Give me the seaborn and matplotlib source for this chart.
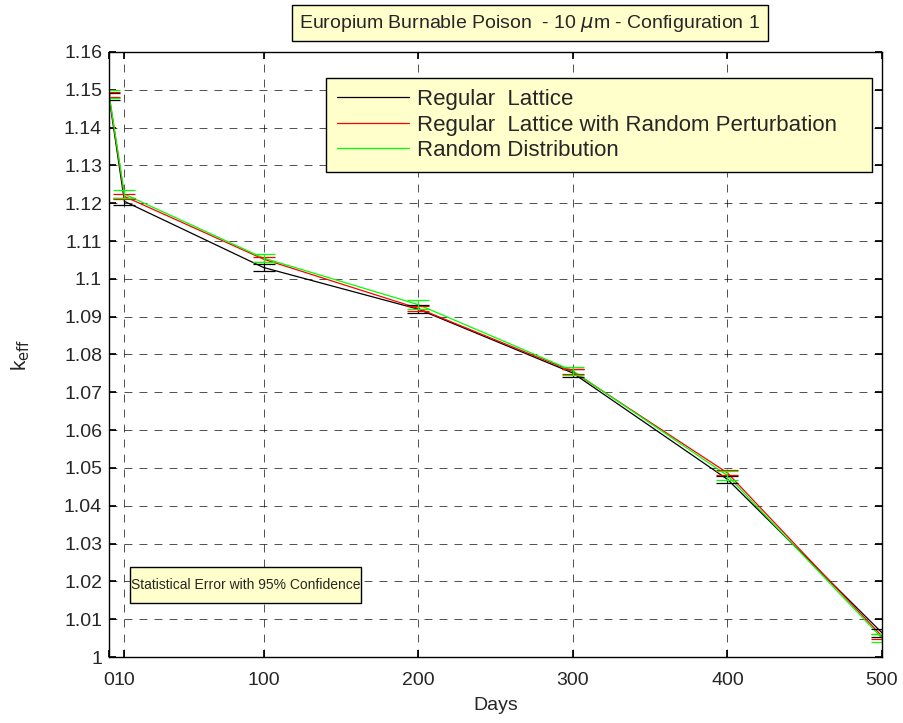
import matplotlib
matplotlib.use("Agg")
import matplotlib.pyplot as plt
import seaborn as sns
import pandas as pd
from matplotlib.lines import Line2D
from matplotlib.patches import Rectangle

days = [0, 10, 100, 200, 300, 400, 500]
regular = [1.1482, 1.1205, 1.1030, 1.0920, 1.0751, 1.0470, 1.0064]
perturbed = [1.1488, 1.1218, 1.1052, 1.0922, 1.0755, 1.0487, 1.0055]
random_dist = [1.1489, 1.1224, 1.1055, 1.0932, 1.0757, 1.0480, 1.0050]
err_regular = [0.0010, 0.0010, 0.0010, 0.0010, 0.0010, 0.0010, 0.0010]
err_perturbed = [0.0007, 0.0007, 0.0007, 0.0007, 0.0007, 0.0007, 0.0007]
err_random = [0.0011, 0.0011, 0.0011, 0.0011, 0.0011, 0.0011, 0.0011]
series_names = ["Regular  Lattice", "Regular  Lattice with Random Perturbation", "Random Distribution"]
colors = ["#000000", "#FF0000", "#00FF00"]
xticks = [0, 10, 100, 200, 300, 400, 500]
yticks = [1.00, 1.01, 1.02, 1.03, 1.04, 1.05, 1.06, 1.07, 1.08, 1.09, 1.10,
          1.11, 1.12, 1.13, 1.14, 1.15, 1.16]

sns.set_theme(style="white")
plt.rcParams["font.family"] = ["Liberation Sans", "DejaVu Sans"]

df = pd.DataFrame({
    "Days": days * 3,
    "keff": regular + perturbed + random_dist,
    "series": [series_names[0]] * 7 + [series_names[1]] * 7 + [series_names[2]] * 7,
})

W, H = 904, 723
fig = plt.figure(figsize=(W / 100, H / 100), dpi=100)
ax = fig.add_axes([109 / W, 1 - 657 / H, (882 - 109) / W, (657 - 52) / H])

sns.lineplot(data=df, x="Days", y="keff", hue="series", palette=colors,
             hue_order=series_names, ax=ax, linewidth=0.9, legend=False)
for vals, errs, c in zip([regular, perturbed, random_dist],
                         [err_regular, err_perturbed, err_random], colors):
    ax.errorbar(days, vals, yerr=errs, fmt="none", ecolor=c, elinewidth=0.9,
                capsize=8, capthick=0.9)

ax.set_xlim(0, 500)
ax.set_ylim(1.0, 1.16)
ax.set_xticks(xticks)
ax.set_xticklabels([str(t) for t in xticks])
ax.set_yticks(yticks)
ax.set_yticklabels(["%g" % t for t in yticks])
ax.tick_params(axis="both", labelsize=14, direction="in", length=5, color="black",
               left=True, bottom=True, top=True, right=True)
ax.tick_params(axis="x", pad=11)
ax.tick_params(axis="y", pad=5)
ax.grid(True, color="black", linestyle=(0, (9.5, 8.5)), linewidth=0.6, alpha=0.8)
for s in ax.spines.values():
    s.set_color("black")
    s.set_linewidth(1.0)
ax.set_xlabel("Days", fontsize=14)
ax.set_ylabel(r"k$_{\mathrm{eff}}$", fontsize=15)
ax.xaxis.set_label_coords(0.5, (657 - 697) / 605)
ax.yaxis.set_label_coords((32 - 109) / 773, 0.5)

handles = [Line2D([], [], color=c, linewidth=0.9) for c in colors]
leg = ax.legend(handles, series_names, loc="upper left",
                bbox_to_anchor=(326 / W, 1 - 78 / H, (872 - 326) / W, 0.0),
                bbox_transform=fig.transFigure, mode="expand", fontsize=16, frameon=True,
                fancybox=False, handlelength=3.25, handletextpad=0.35, labelspacing=0.2,
                borderpad=0.5, borderaxespad=0)
leg.get_frame().set_facecolor("#FFFFCC")
leg.get_frame().set_edgecolor("black")
leg.get_frame().set_linewidth(1.0)
leg.get_frame().set_alpha(1.0)

fig.text(530 / W, 1 - 23 / H, r"Europium Burnable Poison  - 10 $\mu$m - Configuration 1",
         ha="center", va="center", fontsize=14,
         bbox=dict(boxstyle="square,pad=0.4", facecolor="#FFFFCC", edgecolor="black", linewidth=1.0))

fig.add_artist(Rectangle((130 / W, 1 - 603 / H), (361 - 130) / W, 36 / H,
                         transform=fig.transFigure, facecolor="#FFFFCC", edgecolor="black",
                         linewidth=1.0, zorder=5))
fig.text(245.5 / W, 1 - 585 / H, "Statistical Error with 95% Confidence",
         ha="center", va="center", fontsize=10, zorder=6)

fig.savefig("out.png", dpi=100, facecolor="white")
